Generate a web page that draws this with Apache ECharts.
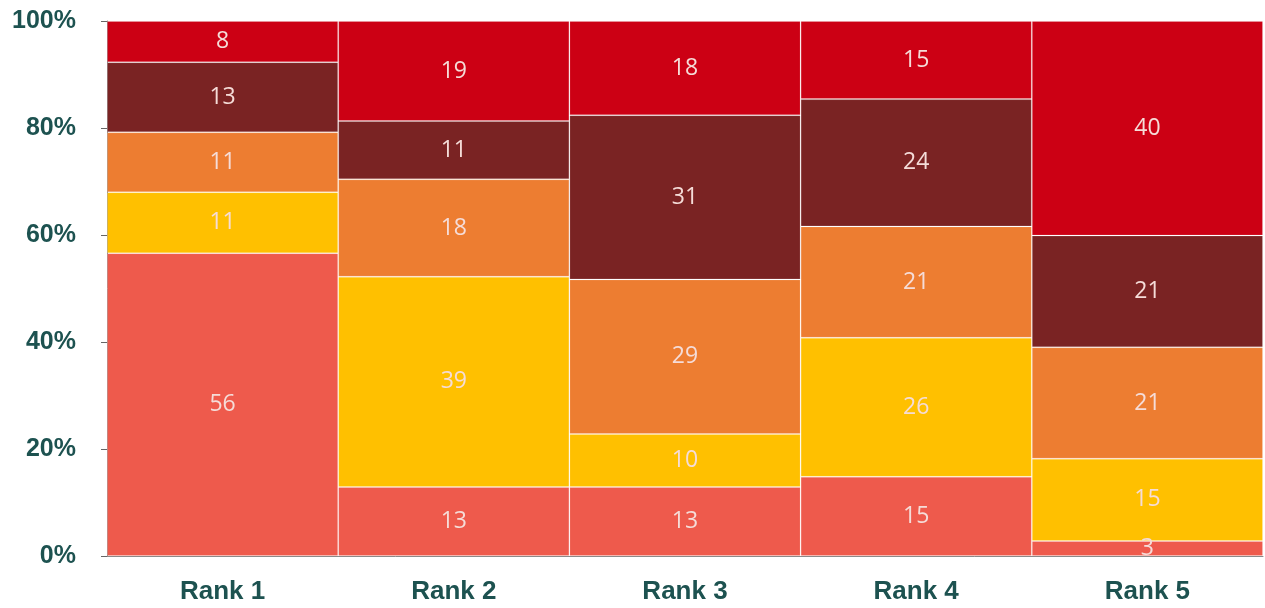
<!DOCTYPE html>
<html>
<head>
<meta charset="utf-8">
<script src="https://cdn.jsdelivr.net/npm/echarts@6/dist/echarts.min.js"></script>
<style>
html, body { margin: 0; padding: 0; background: #fff; }
#chart { width: 1265px; height: 608px; }
</style>
</head>
<body>
<div id="chart"></div>
<script>
var categories = ['Rank 1', 'Rank 2', 'Rank 3', 'Rank 4', 'Rank 5'];
var yTicks = [0, 20, 40, 60, 80, 100];

// shares in percent, bottom to top
var seriesA = [56.6, 12.9, 12.9, 14.8, 2.8];
var seriesB = [11.4, 39.3, 9.9, 26.0, 15.4];
var seriesC = [11.2, 18.2, 28.9, 20.8, 20.8];
var seriesD = [13.1, 10.9, 30.7, 23.8, 20.9];
var seriesE = [7.7, 18.7, 17.6, 14.6, 40.1];

// labels as printed on the chart
var labelsA = [56, 13, 13, 15, 3];
var labelsB = [11, 39, 10, 26, 15];
var labelsC = [11, 18, 29, 21, 21];
var labelsD = [13, 11, 31, 24, 21];
var labelsE = [8, 19, 18, 15, 40];

var colors = ['#ee5a4c', '#ffc000', '#ed7d31', '#7a2323', '#cc0014'];

var chart = echarts.init(document.getElementById('chart'));

function makeSeries(name, data, labels, color) {
    return {
        name: name,
        type: 'bar',
        stack: 'total',
        barCategoryGap: 0,
        data: data,
        itemStyle: {
            color: color,
            borderColor: 'rgba(255,255,255,0.14)',
            borderWidth: 1
        },
        label: {
            show: true,
            position: 'inside',
            color: '#f5dcd8',
            fontFamily: 'Open Sans',
            fontSize: 23,
            formatter: function (p) { return labels[p.dataIndex]; }
        }
    };
}

var option = {
    animation: false,
    grid: { left: 107, right: 2, top: 21, bottom: 52 },
    xAxis: {
        type: 'category',
        data: categories,
        axisLine: { lineStyle: { color: '#8a8a8a', width: 1 } },
        axisTick: { alignWithLabel: true, length: 8, lineStyle: { color: '#666' } },
        axisLabel: {
            color: '#1d5250',
            fontFamily: 'Liberation Sans',
            fontWeight: 'bold',
            fontSize: 26,
            margin: 23
        }
    },
    yAxis: {
        type: 'value',
        min: 0,
        max: 100,
        interval: 20,
        splitLine: { show: false },
        axisLine: { show: true, lineStyle: { color: '#8a8a8a', width: 1 } },
        axisTick: { show: true, length: 6, lineStyle: { color: '#666' } },
        axisLabel: {
            color: '#1d5250',
            fontFamily: 'Liberation Sans',
            fontWeight: 'bold',
            fontSize: 25,
            margin: 31,
            formatter: function (v) { return yTicks.indexOf(v) >= 0 ? v + '%' : ''; }
        }
    },
    series: [
        makeSeries('A', seriesA, labelsA, colors[0]),
        makeSeries('B', seriesB, labelsB, colors[1]),
        makeSeries('C', seriesC, labelsC, colors[2]),
        makeSeries('D', seriesD, labelsD, colors[3]),
        makeSeries('E', seriesE, labelsE, colors[4])
    ]
};
chart.setOption(option);
</script>
</body>
</html>
